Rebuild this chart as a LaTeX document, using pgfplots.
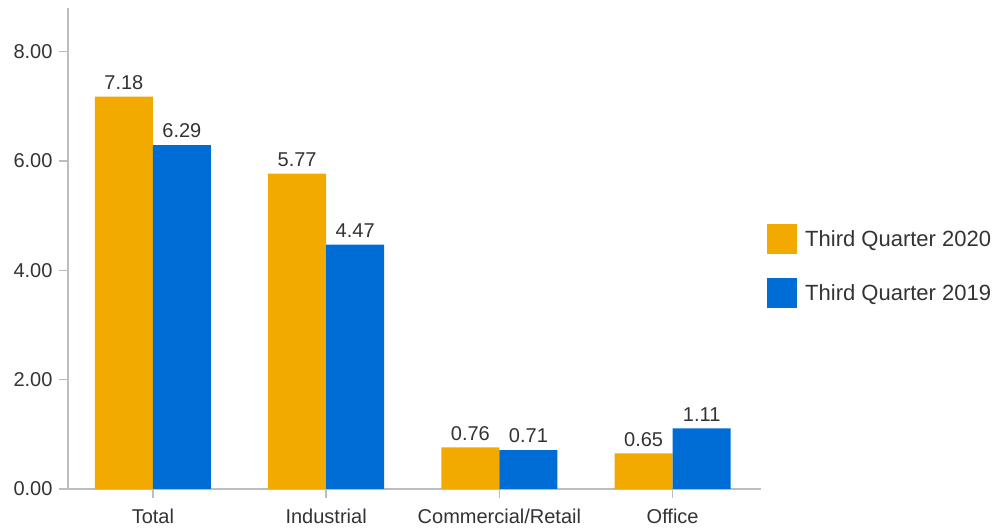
\documentclass[border=0pt]{standalone}
\usepackage{pgfplots}
\pgfplotsset{compat=1.18}
\usepackage{fontspec}
\setmainfont{Liberation Sans}
\definecolor{qorange}{RGB}{242,169,0}
\definecolor{qblue}{RGB}{0,108,214}
\definecolor{axgray}{RGB}{189,189,189}
\definecolor{txt}{RGB}{51,51,51}
\begin{document}
\begin{tikzpicture}
\begin{axis}[
  at={(68pt,40pt)}, anchor=south west,
  scale only axis, width=693pt, height=481pt,
  xmin=-0.49, xmax=3.51, ymin=0, ymax=8.8,
  ybar=0pt, bar width=0.335,
  axis x line*=bottom, axis y line*=left,
  axis line style={axgray, line width=1.5pt, -},
  xtick={0,1,2,3},
  xticklabels={Total,Industrial,Commercial/Retail,Office},
  ytick={0,2,4,6,8},
  tick style={axgray, line width=1.5pt},
  major tick length=9pt,
  tick align=outside,
  /pgf/number format/assume math mode=true,
  ticklabel style={font=\fontsize{20}{24}\selectfont, text=txt},
  yticklabel style={/pgf/number format/.cd, fixed, fixed zerofill, precision=2, /tikz/.cd, xshift=-3pt},
  xticklabel style={yshift=-7pt},
  nodes near coords,
  nodes near coords style={font=\fontsize{20}{24}\selectfont, text=txt, inner sep=0pt, yshift=7pt,
    /pgf/number format/.cd, fixed, fixed zerofill, precision=2, assume math mode=true},
  legend style={at={(1.0087,0.4636)}, anchor=west, draw=none, fill=none,
    font=\fontsize{22}{26}\selectfont, text=txt, inner sep=0pt, row sep=24pt,
    /tikz/every odd column/.append style={column sep=6pt}},
  legend cell align=left,
  clip=false,
]
\addplot[fill=qorange, draw=none,
  legend image code/.code={\fill[qorange] (0pt,-15pt) rectangle (30pt,15pt);}]
  coordinates {(0,7.18) (1,5.77) (2,0.76) (3,0.65)};
\addlegendentry{Third Quarter 2020}
\addplot[fill=qblue, draw=none,
  legend image code/.code={\fill[qblue] (0pt,-15pt) rectangle (30pt,15pt);}]
  coordinates {(0,6.29) (1,4.47) (2,0.71) (3,1.11)};
\addlegendentry{Third Quarter 2019}
\end{axis}
\pgfresetboundingbox
\path[use as bounding box] (0,0) rectangle (994pt,529pt);
\end{tikzpicture}
\end{document}
